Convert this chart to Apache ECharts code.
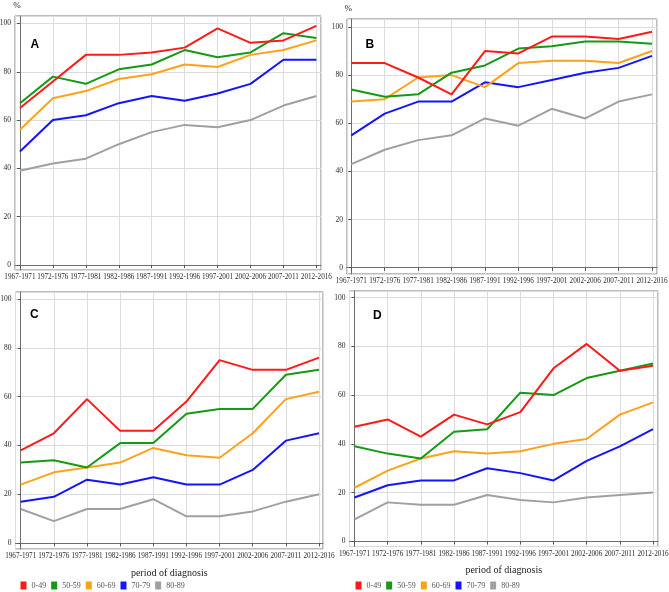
<!DOCTYPE html>
<html>
<head>
<meta charset="utf-8">
<script src="https://cdn.jsdelivr.net/npm/echarts@6/dist/echarts.min.js"></script>
<style>
html,body{margin:0;padding:0;background:#fff;}
#c{width:669px;height:592px;}
</style>
</head>
<body>
<div id="c"></div>
<script>
// ---- data ----
const categories = ['1967-1971','1972-1976','1977-1981','1982-1986','1987-1991','1992-1996','1997-2001','2002-2006','2007-2011','2012-2016'];
const groupNames = ['0-49','50-59','60-69','70-79','80-89'];
const yTicks = [0,20,40,60,80,100];

// Panel A
const A_0_49  = [65,76,87,87,88,90,98,92,93,99];
const A_50_59 = [67,78,75,81,83,89,86,88,96,94];
const A_60_69 = [56,69,72,77,79,83,82,87,89,93];
const A_70_79 = [47,60,62,67,70,68,71,75,85,85];
const A_80_89 = [39,42,44,50,55,58,57,60,66,70];
// Panel B
const B_0_49  = [85,85,79,72,90,89,96,96,95,98];
const B_50_59 = [74,71,72,81,84,91,92,94,94,93];
const B_60_69 = [69,70,79,80,75,85,86,86,85,90];
const B_70_79 = [55,64,69,69,77,75,78,81,83,88];
const B_80_89 = [43,49,53,55,62,59,66,62,69,72];
// Panel C
const C_0_49  = [38,45,59,46,46,58,75,71,71,76];
const C_50_59 = [33,34,31,41,41,53,55,55,69,71];
const C_60_69 = [24,29,31,33,39,36,35,45,59,62];
const C_70_79 = [17,19,26,24,27,24,24,30,42,45];
const C_80_89 = [14,9,14,14,18,11,11,13,17,20];
// Panel D
const D_0_49  = [47,50,43,52,48,53,71,81,70,72];
const D_50_59 = [39,36,34,45,46,61,60,67,70,73];
const D_60_69 = [22,29,34,37,36,37,40,42,52,57];
const D_70_79 = [18,23,25,25,30,28,25,33,39,46];
const D_80_89 = [9,16,15,15,19,17,16,18,19,20];

// ---- styling / layout ----
const colors = ['#ff1a1a','#159a15','#ffa21a','#1414ff','#a0a0a0'];
const serif = "'Liberation Serif', 'Times New Roman', serif";
const panels = [
  {letter:'A', data:[A_0_49,A_50_59,A_60_69,A_70_79,A_80_89], rect:{left:15, top:16, width:306, height:254},
   xr:[-0.15,9.14], yr:[-2.1,103.1], letterPos:{left:30.5, top:39}, pct:true, xname:false},
  {letter:'B', data:[B_0_49,B_50_59,B_60_69,B_70_79,B_80_89], rect:{left:347, top:19, width:310, height:255},
   xr:[-0.13,9.15], yr:[-2.6,103.3], letterPos:{left:365.5, top:39}, pct:true, xname:false},
  {letter:'C', data:[C_0_49,C_50_59,C_60_69,C_70_79,C_80_89], rect:{left:15.5, top:292, width:307.5, height:257},
   xr:[-0.157,9.12], yr:[-2.4,102.9], letterPos:{left:30, top:309}, pct:false, xname:true},
  {letter:'D', data:[D_0_49,D_50_59,D_60_69,D_70_79,D_80_89], rect:{left:349.5, top:291, width:308.5, height:255.5},
   xr:[-0.15,9.15], yr:[-2.1,102.7], letterPos:{left:373, top:309.5}, pct:false, xname:true}
];

const grid = [], xAxis = [], yAxis = [], series = [], title = [];
panels.forEach((p, i) => {
  grid.push(Object.assign({show:true, borderColor:'#7a7a7a', borderWidth:1, backgroundColor:'#fff', outerBoundsMode:'none', containLabel:false}, p.rect));
  xAxis.push({
    type:'value', gridIndex:i, min:p.xr[0], max:p.xr[1], minInterval:1, maxInterval:1,
    axisLine:{show:true, lineStyle:{color:'#6e6e6e', width:1}},
    axisTick:{show:true, inside:false, length:3, lineStyle:{color:'#555'}},
    axisLabel:{showMinLabel:false, showMaxLabel:false, margin:4, color:'#2a2a2a', fontFamily:serif, fontSize:7.2,
      formatter: v => (Number.isInteger(v) && categories[v] !== undefined) ? categories[v] : ''},
    splitLine:{show:true, lineStyle:{color:'#dcdcdc', width:1}},
    name: p.xname ? 'period of diagnosis' : '', nameLocation:'middle', nameGap:19,
    nameTextStyle:{fontFamily:serif, fontSize:10, color:'#222'}
  });
  yAxis.push({
    type:'value', gridIndex:i, min:p.yr[0], max:p.yr[1], minInterval:20, maxInterval:20,
    axisLine:{show:true, lineStyle:{color:'#6e6e6e', width:1}},
    axisTick:{show:true, inside:false, length:3, lineStyle:{color:'#555'}},
    axisLabel:{showMinLabel:false, showMaxLabel:false, margin:4, color:'#2a2a2a', fontFamily:serif, fontSize:7.5},
    splitLine:{show:true, lineStyle:{color:'#dcdcdc', width:1}},
    name: p.pct ? '%' : '', nameLocation:'end', nameGap:6,
    nameTextStyle:{fontFamily:serif, fontSize:9, color:'#222', align:'center', padding:[0,6,0,0]}
  });
  title.push({text:p.letter, left:p.letterPos.left, top:p.letterPos.top, padding:0,
    textStyle:{fontFamily:"'Liberation Sans', Arial, sans-serif", fontSize:12, fontWeight:'bold', color:'#000'}});
  for (let g = groupNames.length - 1; g >= 0; g--) {
    series.push({
      type:'line', name:groupNames[g], xAxisIndex:i, yAxisIndex:i,
      data:p.data[g].map((v, k) => [k, v]),
      symbol:'none', smooth:false, color:colors[g],
      lineStyle:{width:2, color:colors[g]}, z:2
    });
  }
});

const legendBase = {
  data:groupNames, orient:'horizontal', icon:'rect', itemWidth:6, itemHeight:8, itemGap:5, padding:0,
  selectedMode:false,
  textStyle:{fontFamily:serif, fontSize:8, color:'#555', width:24}
};

const option = {
  animation:false,
  backgroundColor:'#fff',
  color:colors,
  title,
  grid, xAxis, yAxis, series,
  legend:[
    Object.assign({left:20.5, top:581.5}, legendBase),
    Object.assign({left:355.5, top:581.5}, legendBase)
  ]
};

const chart = echarts.init(document.getElementById('c'), null, {renderer:'canvas'});
chart.setOption(option);
</script>
</body>
</html>
